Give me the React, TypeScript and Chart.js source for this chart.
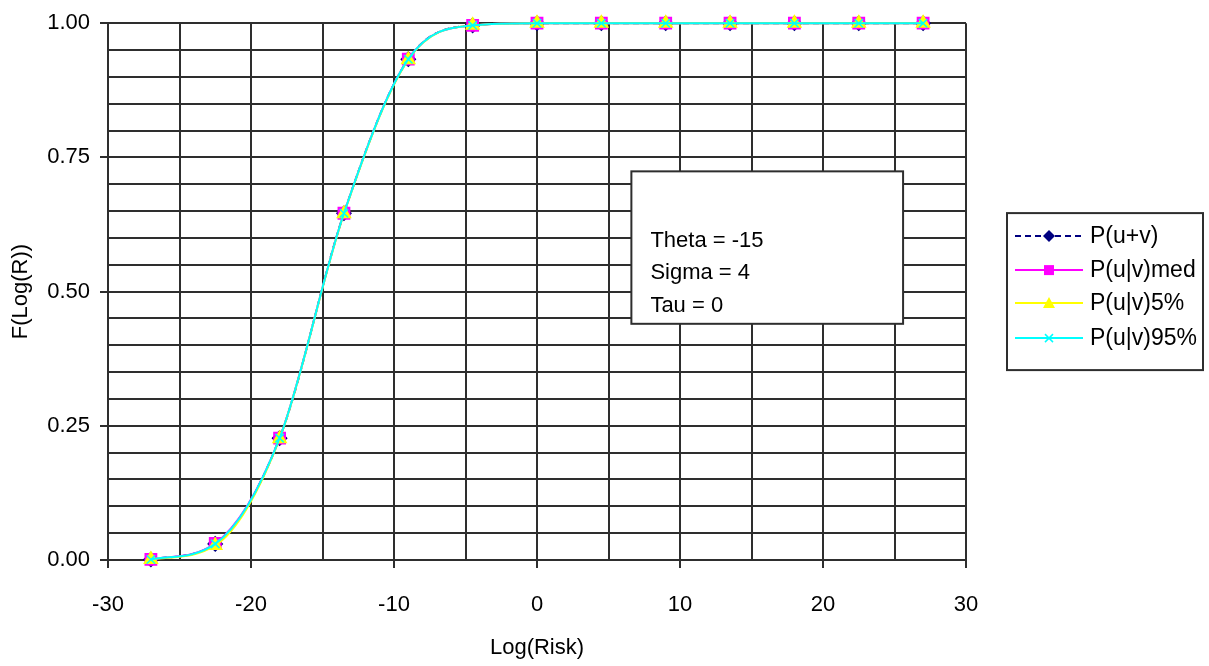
import React, { useEffect, useRef } from 'react';
import { Chart, registerables } from 'chart.js';

Chart.register(...registerables);

// ---- data ----
const xValues = [-27, -22.5, -18, -13.5, -9, -4.5, 0, 4.5, 9, 13.5, 18, 22.5, 27];
const pUplusV = [0.001, 0.03, 0.227, 0.646, 0.933, 0.996, 1, 1, 1, 1, 1, 1, 1];
const pMed = [0.001, 0.031, 0.227, 0.646, 0.933, 0.996, 1, 1, 1, 1, 1, 1, 1];
const p5 = [0.001, 0.027, 0.226, 0.645, 0.932, 0.996, 1, 1, 1, 1, 1, 1, 1];
const p95 = [0.001, 0.03, 0.227, 0.646, 0.933, 0.996, 1, 1, 1, 1, 1, 1, 1];
const seriesNames = ['P(u+v)', 'P(u|v)med', 'P(u|v)5%', 'P(u|v)95%'];
const annotationLines = ['Theta = -15', 'Sigma = 4', 'Tau = 0'];
const xTitle = 'Log(Risk)';
const yTitle = 'F(Log(R))';

// ---- layout / style ----
const FONT = "'Liberation Sans', Arial, sans-serif";
const FS = 22;
const LFS = 23;
const GRID = '#2e2e2e';
const annotationBox = { xMin: 6.6, xMax: 25.6, yMin: 0.44, yMax: 0.724 };

const styles = [
  { color: '#000080', dash: [6, 4], point: 'rectRot', radius: 7, legendR: 5 },
  { color: '#ff00ff', dash: [], point: 'rect', radius: 8, legendR: 5 },
  { color: '#ffff00', dash: [], point: 'triangle', radius: 7.5, legendR: 5 },
  { color: '#00ffff', dash: [], point: 'crossRot', radius: 6, legendR: 4 },
];

function drawMarker(ctx: CanvasRenderingContext2D, style: string, x: number, y: number, r: number, color: string) {
  ctx.save();
  ctx.fillStyle = color;
  ctx.strokeStyle = color;
  ctx.lineWidth = 1.5;
  ctx.setLineDash([]);
  ctx.beginPath();
  if (style === 'rectRot') {
    ctx.moveTo(x, y - r - 1);
    ctx.lineTo(x + r + 1, y);
    ctx.lineTo(x, y + r + 1);
    ctx.lineTo(x - r - 1, y);
    ctx.closePath();
    ctx.fill();
  } else if (style === 'rect') {
    ctx.rect(x - r, y - r, 2 * r, 2 * r);
    ctx.fill();
  } else if (style === 'triangle') {
    ctx.moveTo(x, y - r - 1);
    ctx.lineTo(x + r + 1, y + r);
    ctx.lineTo(x - r - 1, y + r);
    ctx.closePath();
    ctx.fill();
  } else {
    ctx.moveTo(x - r, y - r);
    ctx.lineTo(x + r, y + r);
    ctx.moveTo(x + r, y - r);
    ctx.lineTo(x - r, y + r);
    ctx.stroke();
  }
  ctx.restore();
}

const sideLegend = {
  id: 'sideLegend',
  afterDraw(chart: any) {
    const { ctx, chartArea } = chart;
    const boxW = 196;
    const boxH = 157;
    const left = chartArea.right + 41;
    const top = (chartArea.top + chartArea.bottom) / 2 - boxH / 2;
    ctx.save();
    ctx.fillStyle = '#ffffff';
    ctx.fillRect(left, top, boxW, boxH);
    ctx.strokeStyle = GRID;
    ctx.lineWidth = 2;
    ctx.strokeRect(left, top, boxW, boxH);
    const rows = [23, 57, 90, 125];
    seriesNames.forEach((name, i) => {
      const s = styles[i];
      const y = top + rows[i];
      ctx.save();
      ctx.strokeStyle = s.color;
      ctx.lineWidth = 2;
      ctx.setLineDash(s.dash);
      ctx.beginPath();
      ctx.moveTo(left + 8, y);
      ctx.lineTo(left + 76, y);
      ctx.stroke();
      ctx.restore();
      drawMarker(ctx, s.point, left + 42, y, s.legendR, s.color);
      ctx.fillStyle = '#000';
      ctx.font = `${LFS}px ${FONT}`;
      ctx.textBaseline = 'middle';
      ctx.textAlign = 'left';
      ctx.fillText(name, left + 83, y + 1);
    });
    ctx.restore();
  },
};

const annotation = {
  id: 'paramBox',
  afterDatasetsDraw(chart: any) {
    const { ctx } = chart;
    const xs = chart.scales.x;
    const ys = chart.scales.y;
    const l = xs.getPixelForValue(annotationBox.xMin);
    const r = xs.getPixelForValue(annotationBox.xMax);
    const t = ys.getPixelForValue(annotationBox.yMax);
    const b = ys.getPixelForValue(annotationBox.yMin);
    ctx.save();
    ctx.fillStyle = '#ffffff';
    ctx.fillRect(l, t, r - l, b - t);
    ctx.strokeStyle = GRID;
    ctx.lineWidth = 2;
    ctx.strokeRect(l, t, r - l, b - t);
    ctx.fillStyle = '#000';
    ctx.font = `${FS}px ${FONT}`;
    ctx.textBaseline = 'middle';
    ctx.textAlign = 'left';
    const offs = [70, 102, 135];
    annotationLines.forEach((line, i) => {
      ctx.fillText(line, l + 19, t + offs[i]);
    });
    ctx.restore();
  },
};

const isMultiple = (v: number, step: number) => Math.abs(v / step - Math.round(v / step)) < 1e-6;

export default function App() {
  const ref = useRef<HTMLCanvasElement | null>(null);
  useEffect(() => {
    if (!ref.current) return;
    const series = [pUplusV, pMed, p5, p95];
    const chart = new Chart(ref.current, {
      type: 'line',
      data: {
        datasets: series.map((vals, i) => ({
          label: seriesNames[i],
          data: xValues.map((x, j) => ({ x, y: vals[j] })),
          borderColor: styles[i].color,
          backgroundColor: styles[i].color,
          borderDash: styles[i].dash,
          borderWidth: 2,
          pointStyle: styles[i].point as any,
          pointRadius: styles[i].radius,
          pointBorderWidth: 1.5,
          pointBorderColor: styles[i].color,
          pointBackgroundColor: styles[i].color,
          cubicInterpolationMode: 'monotone' as const,
          clip: false as any,
          order: 4 - i,
        })),
      },
      options: {
        animation: false,
        responsive: false,
        events: [],
        layout: { padding: { left: 0, top: 21, right: 243, bottom: 0 } },
        plugins: { legend: { display: false }, tooltip: { enabled: false } },
        scales: {
          x: {
            type: 'linear',
            min: -30,
            max: 30,
            afterFit: (s: any) => { s.height = 106; },
            ticks: {
              stepSize: 5,
              autoSkip: false,
              maxRotation: 0,
              padding: 24,
              color: '#000',
              font: { family: FONT, size: FS },
              callback: (v: any) => (isMultiple(Number(v), 10) ? String(Math.round(Number(v))) : ''),
            },
            grid: {
              color: GRID,
              lineWidth: 2,
              tickLength: 8,
              tickColor: (c: any) => (c.tick && isMultiple(c.tick.value, 10) ? GRID : 'rgba(0,0,0,0)'),
            },
            border: { display: true, color: GRID, width: 2 },
            title: {
              display: true,
              text: xTitle,
              color: '#000',
              font: { family: FONT, size: FS },
              padding: { top: 0, bottom: 5 },
            },
          },
          y: {
            type: 'linear',
            min: 0,
            max: 1,
            afterFit: (s: any) => { s.width = 108; },
            ticks: {
              stepSize: 0.05,
              autoSkip: false,
              padding: 10,
              color: '#000',
              font: { family: FONT, size: FS },
              callback: (v: any) => (isMultiple(Number(v), 0.25) ? Number(v).toFixed(2) : ''),
            },
            grid: {
              color: GRID,
              lineWidth: 2,
              tickLength: 8,
              tickColor: (c: any) => (c.tick && isMultiple(c.tick.value, 0.25) ? GRID : 'rgba(0,0,0,0)'),
            },
            border: { display: true, color: GRID, width: 2 },
            title: {
              display: true,
              text: yTitle,
              color: '#000',
              font: { family: FONT, size: FS },
              padding: { top: 8, bottom: 0 },
            },
          },
        },
      },
      plugins: [annotation, sideLegend],
    });
    return () => chart.destroy();
  }, []);
  return (
    <div style={{ position: 'fixed', left: 0, top: 0, width: 1209, height: 666, background: '#fff' }}>
      <canvas ref={ref} width={1209} height={666} style={{ display: 'block' }} />
    </div>
  );
}
